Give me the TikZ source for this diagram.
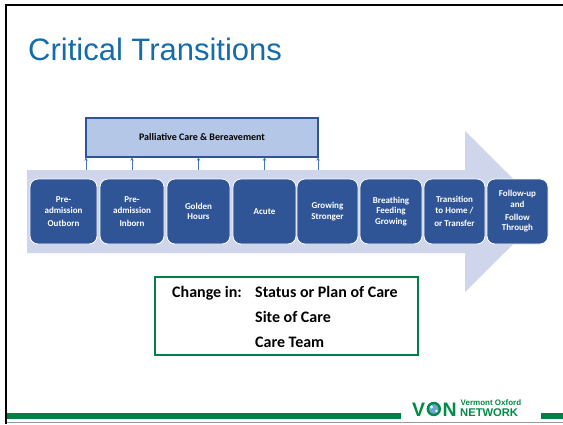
\documentclass[tikz,border=0pt]{standalone}
\usepackage{fontspec}
\setmainfont{Carlito}
\newfontfamily\titlefont{Liberation Sans}
\usetikzlibrary{arrows.meta}
\definecolor{titleblue}{RGB}{22,108,170}
\definecolor{arrowfill}{RGB}{207,213,234}
\definecolor{palfill}{RGB}{180,199,231}
\definecolor{palborder}{RGB}{47,85,151}
\definecolor{boxblue}{RGB}{47,85,151}
\definecolor{tickblue}{RGB}{68,114,196}
\definecolor{chggreen}{RGB}{0,128,70}
\definecolor{bargreen}{RGB}{0,128,72}
\definecolor{logogreen}{RGB}{0,140,70}
\definecolor{logoblue}{RGB}{110,165,210}
\tikzset{
  stage/.style={draw=white, line width=0.8pt, fill=boxblue, rounded corners=8pt,
    text=white, font=\bfseries\fontsize{9}{10.5}\selectfont, align=center,
    inner sep=0pt, minimum height=65pt},
  tick/.style={draw=tickblue, line width=0.9pt, -{Stealth[length=3.2pt,width=3.4pt]}},
  chgtext/.style={anchor=base west, inner sep=0pt, font=\bfseries\fontsize{16}{20}\selectfont},
  logotext/.style={anchor=base west, inner sep=0pt, text=logogreen},
}
\begin{document}
\begin{tikzpicture}[x=1pt,y=-1pt]
\useasboundingbox (0,0) rectangle (563,424);
\fill[white] (0,0) rectangle (563,424);
% frame
\draw[black, line width=2.3pt] (4.5,5) -- (563,5);
\draw[black, line width=2.5pt] (5.8,4) -- (5.8,424);
% title
\node[anchor=base west, inner sep=0pt, text=titleblue,
  font=\titlefont\fontsize{31}{36}\selectfont] (title) at (28,60) {Critical Transitions};
% big arrow
\fill[arrowfill] (27,170) -- (465,170) -- (465,131) -- (546,211.5) -- (465,292)
  -- (465,253) -- (27,253) -- cycle;
% palliative box
\node[draw=palborder, line width=1.1pt, fill=palfill, minimum width=232pt,
  minimum height=39pt, inner sep=0pt, font=\bfseries\fontsize{10}{12}\selectfont]
  (pal) at (202,137.5) {Palliative Care \& Bereavement};
% stages
\node[stage, minimum width=67pt] (b1) at (63.5,211.5) {Pre-\\admission\\[2.5pt]Outborn};
\node[stage, minimum width=64pt] (b2) at (132,211.5) {Pre-\\admission\\[2.5pt]Inborn};
\node[stage, minimum width=63pt] (b3) at (198.5,211.5) {Golden\\Hours};
\node[stage, minimum width=63pt] (b4) at (264.5,211.5) {Acute};
\node[stage, minimum width=61pt] (b5) at (327.5,211.5) {Growing\\Stronger};
\node[stage, minimum width=62pt] (b6) at (391,211.5) {Breathing\\Feeding\\Growing};
\node[stage, minimum width=61pt] (b7) at (454.5,211.5) {Transition\\to Home /\\[2.5pt]or Transfer};
\node[stage, minimum width=61pt] (b8) at (517.5,211.5) {Follow-up\\and\\[2.5pt]Follow\\Through};
% ticks
\coordinate (t1) at (86,170);
\coordinate (t2) at (b2.center |- t1);
\coordinate (t3) at (b3.center |- t1);
\coordinate (t4) at (b4.center |- t1);
\coordinate (t5) at (318,170);
\foreach \t in {t1,t2,t3,t4,t5} \draw[tick] (\t) -- (\t |- pal.south);
% change box
\node[draw=chggreen, line width=1.3pt, minimum width=263pt, minimum height=78pt,
  inner sep=0pt] (chg) at (286.5,316) {};
\node[chgtext] (c0) at (172,297.5) {Change in:};
\node[chgtext] (c1) at (255,297.5) {Status or Plan of Care};
\node[chgtext] (c2) at (255,322.5) {Site of Care};
\node[chgtext] (c3) at (255,347) {Care Team};
% footer
\fill[bargreen] (7,413) rectangle (401,419);
\fill[bargreen] (541,413) rectangle (563,419);
\draw[black!40, line width=0.8pt] (7,422.3) -- (563,422.3);
% logo
\node[logotext, font=\titlefont\bfseries\fontsize{19.5}{20}\selectfont] (lv) at (412,416) {V};
\draw[logogreen, line width=2.4pt, fill=logoblue] (433.8,409) circle (6);
\fill[white] (431.5,407) circle (1.6);
\fill[white] (436.5,411) circle (1.3);
\node[logotext, font=\titlefont\bfseries\fontsize{19.5}{20}\selectfont] (ln) at (442.5,416) {N};
\node[logotext, font=\titlefont\bfseries\fontsize{8}{9}\selectfont] (lvo) at (460.5,405.6) {Vermont Oxford};
\node[logotext, font=\titlefont\bfseries\fontsize{11.2}{12}\selectfont] (lnw) at (460,416.5) {NETWORK};
\end{tikzpicture}
\end{document}
